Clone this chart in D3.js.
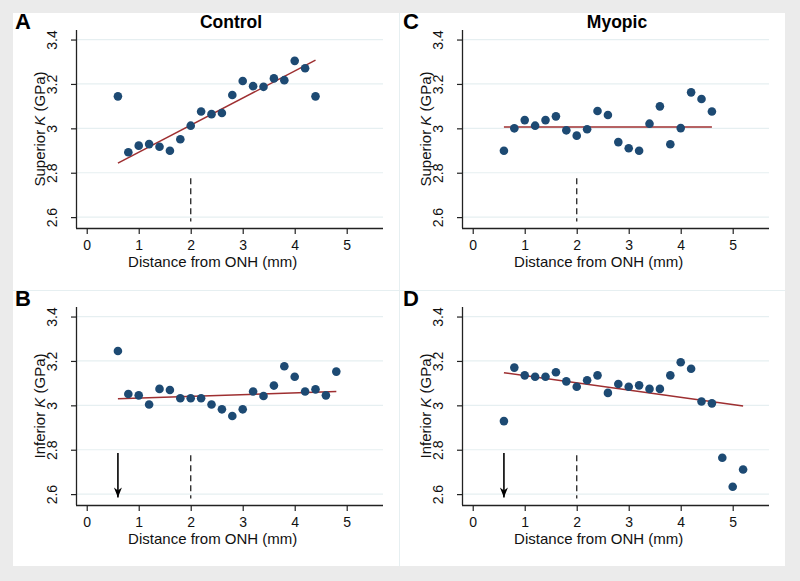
<!DOCTYPE html>
<html>
<head>
<meta charset="utf-8">
<script src="https://cdn.jsdelivr.net/npm/d3@7"></script>
<style>
html,body{margin:0;padding:0;background:#ebebeb;}
svg{display:block;font-family:"Liberation Sans",Arial,Helvetica,sans-serif;}
</style>
</head>
<body>
<svg id="chart" width="800" height="581"></svg>
<script>
// ---------- data ----------
const xTicks = [0, 1, 2, 3, 4, 5];
const yTicks = [2.6, 2.8, 3.0, 3.2, 3.4];
const yTickLabels = ["2.6", "2.8", "3", "3.2", "3.4"];

const distA = [0.6,0.8,1.0,1.2,1.4,1.6,1.8,2.0,2.2,2.4,2.6,2.8,3.0,3.2,3.4,3.6,3.8,4.0,4.2,4.4];
const kA    = [3.144,2.892,2.922,2.929,2.917,2.899,2.951,3.012,3.076,3.064,3.069,3.150,3.213,3.190,3.187,3.225,3.217,3.304,3.271,3.144];
const fitA  = [[0.6, 2.843], [4.4, 3.307]];

const distC = [0.6,0.8,1.0,1.2,1.4,1.6,1.8,2.0,2.2,2.4,2.6,2.8,3.0,3.2,3.4,3.6,3.8,4.0,4.2,4.4,4.6];
const kC    = [2.899,3.000,3.037,3.012,3.037,3.054,2.991,2.967,2.996,3.078,3.060,2.938,2.910,2.899,3.021,3.099,2.928,3.001,3.162,3.132,3.076];
const fitC  = [[0.6, 3.006], [4.6, 3.006]];

const distB = [0.6,0.8,1.0,1.2,1.4,1.6,1.8,2.0,2.2,2.4,2.6,2.8,3.0,3.2,3.4,3.6,3.8,4.0,4.2,4.4,4.6,4.8];
const kB    = [3.245,3.051,3.045,3.004,3.074,3.069,3.032,3.032,3.032,3.004,2.982,2.952,2.982,3.062,3.042,3.089,3.176,3.129,3.062,3.072,3.045,3.152];
const fitB  = [[0.6, 3.030], [4.8, 3.062]];

const distD = [0.6,0.8,1.0,1.2,1.4,1.6,1.8,2.0,2.2,2.4,2.6,2.8,3.0,3.2,3.4,3.6,3.8,4.0,4.2,4.4,4.6,4.8,5.0,5.2];
const kD    = [2.929,3.170,3.135,3.129,3.129,3.149,3.108,3.084,3.113,3.135,3.056,3.096,3.084,3.090,3.074,3.074,3.135,3.194,3.165,3.017,3.009,2.764,2.633,2.711];
const fitD  = [[0.6, 3.147], [5.2, 2.997]];

const dashedRef = {x: 2, from: 2.58, to: 2.775};
const arrowRef  = {x: 0.6, from: 2.785, to: 2.585};

const panels = [
  {letter:"A", title:"Control", ylab:"Superior", dist:distA, k:kA, fit:fitA, arrow:false, left:77,  top:30},
  {letter:"C", title:"Myopic",  ylab:"Superior", dist:distC, k:kC, fit:fitC, arrow:false, left:463, top:30},
  {letter:"B", title:null,      ylab:"Inferior", dist:distB, k:kB, fit:fitB, arrow:true,  left:77,  top:307},
  {letter:"D", title:null,      ylab:"Inferior", dist:distD, k:kD, fit:fitD, arrow:true,  left:463, top:307}
];

// ---------- drawing ----------
const svg = d3.select("#chart");
const W = 306, H = 198;
const xDomain = [-0.187, 5.698];
const yDomain = [2.551, 3.443];
const gridCol = "#e6eff1";
const dotCol = "#1d4a73";
const fitCol = "#9e2f31";
const axisCol = "#222";

svg.append("rect").attr("x", 13).attr("y", 13).attr("width", 772).attr("height", 553).attr("fill", "#fff");
svg.append("line").attr("x1", 13).attr("x2", 785).attr("y1", 290.5).attr("y2", 290.5).attr("stroke", gridCol).attr("stroke-width", 1);
svg.append("line").attr("x1", 399.5).attr("x2", 399.5).attr("y1", 13).attr("y2", 566).attr("stroke", gridCol).attr("stroke-width", 1);

const defs = svg.append("defs");
defs.append("marker").attr("id", "ah").attr("viewBox", "0 0 10 10").attr("refX", 10).attr("refY", 5)
  .attr("markerWidth", 10).attr("markerHeight", 10).attr("markerUnits", "userSpaceOnUse")
  .attr("orient", "auto")
  .append("path").attr("d", "M0,1 L10,5 L0,9 L3,5 Z").attr("fill", "#000");

panels.forEach(p => {
  const g = svg.append("g").attr("transform", `translate(${p.left},${p.top})`);
  const x = d3.scaleLinear().domain(xDomain).range([0, W]);
  const y = d3.scaleLinear().domain(yDomain).range([H, 0]);

  // gridlines
  g.selectAll(".grid").data(yTicks).join("line")
    .attr("x1", 0).attr("x2", W)
    .attr("y1", d => y(d)).attr("y2", d => y(d))
    .attr("stroke", gridCol).attr("stroke-width", 1.2);

  // y axis
  const ya = g.append("g").call(d3.axisLeft(y).tickValues(yTicks).tickSize(6).tickFormat((d, i) => yTickLabels[i]));
  ya.select(".domain").attr("stroke", axisCol).attr("stroke-width", 1.3).attr("d", `M-0.5,0V${H}`);
  ya.selectAll(".tick line").attr("stroke", axisCol).attr("stroke-width", 1.2);
  ya.selectAll(".tick text")
    .attr("x", null).attr("dy", null)
    .attr("transform", "translate(-20,0) rotate(-90)")
    .attr("text-anchor", "middle")
    .attr("font-size", 14).attr("fill", "#111").attr("font-family", "Liberation Sans, Arial, sans-serif");

  // x axis
  const xa = g.append("g").attr("transform", `translate(0,${H})`)
    .call(d3.axisBottom(x).tickValues(xTicks).tickSize(6).tickFormat(d3.format("d")));
  xa.select(".domain").attr("stroke", axisCol).attr("stroke-width", 1.3).attr("d", `M-1,0.5H${W}`);
  xa.selectAll(".tick line").attr("stroke", axisCol).attr("stroke-width", 1.2);
  xa.selectAll(".tick text").attr("y", 12).attr("dy", "0.71em")
    .attr("font-size", 14).attr("fill", "#111").attr("font-family", "Liberation Sans, Arial, sans-serif");

  // axis titles
  g.append("text").attr("x", x(2.5) - 4).attr("y", H + 39).attr("text-anchor", "middle")
    .attr("font-size", 15).attr("fill", "#111").text("Distance from ONH (mm)");
  const yt = g.append("text").attr("transform", `translate(-32,${H / 2}) rotate(-90)`)
    .attr("text-anchor", "middle").attr("font-size", 15).attr("fill", "#111");
  yt.append("tspan").text(p.ylab + " ");
  yt.append("tspan").attr("font-style", "italic").text("K");
  yt.append("tspan").text(" (GPa)");

  // dashed reference line
  g.append("line").attr("x1", x(dashedRef.x)).attr("x2", x(dashedRef.x))
    .attr("y1", y(dashedRef.to)).attr("y2", y(dashedRef.from))
    .attr("stroke", "#333").attr("stroke-width", 1.4).attr("stroke-dasharray", "6,4");

  // arrow
  if (p.arrow) {
    g.append("line").attr("x1", x(arrowRef.x)).attr("x2", x(arrowRef.x))
      .attr("y1", y(arrowRef.from)).attr("y2", y(arrowRef.to))
      .attr("stroke", "#000").attr("stroke-width", 1.6).attr("marker-end", "url(#ah)");
  }

  // fit line
  g.append("path").datum(p.fit)
    .attr("d", d3.line().x(d => x(d[0])).y(d => y(d[1])))
    .attr("stroke", fitCol).attr("stroke-width", 1.5).attr("fill", "none");

  // points
  g.selectAll(".pt").data(p.dist.map((d, i) => [d, p.k[i]])).join("circle")
    .attr("cx", d => x(d[0])).attr("cy", d => y(d[1])).attr("r", 4.3)
    .attr("fill", dotCol);

  // panel title
  if (p.title) {
    g.append("text").attr("x", W / 2 + 1).attr("y", -2).attr("text-anchor", "middle")
      .attr("font-size", 17.5).attr("font-weight", "bold").attr("fill", "#000").text(p.title);
  }
  // panel letter
  g.append("text").attr("x", p.left < 200 ? 15 - p.left : 403 - p.left).attr("y", -1)
    .attr("font-size", 22).attr("font-weight", "bold").attr("fill", "#000").text(p.letter);
});
</script>
</body>
</html>
